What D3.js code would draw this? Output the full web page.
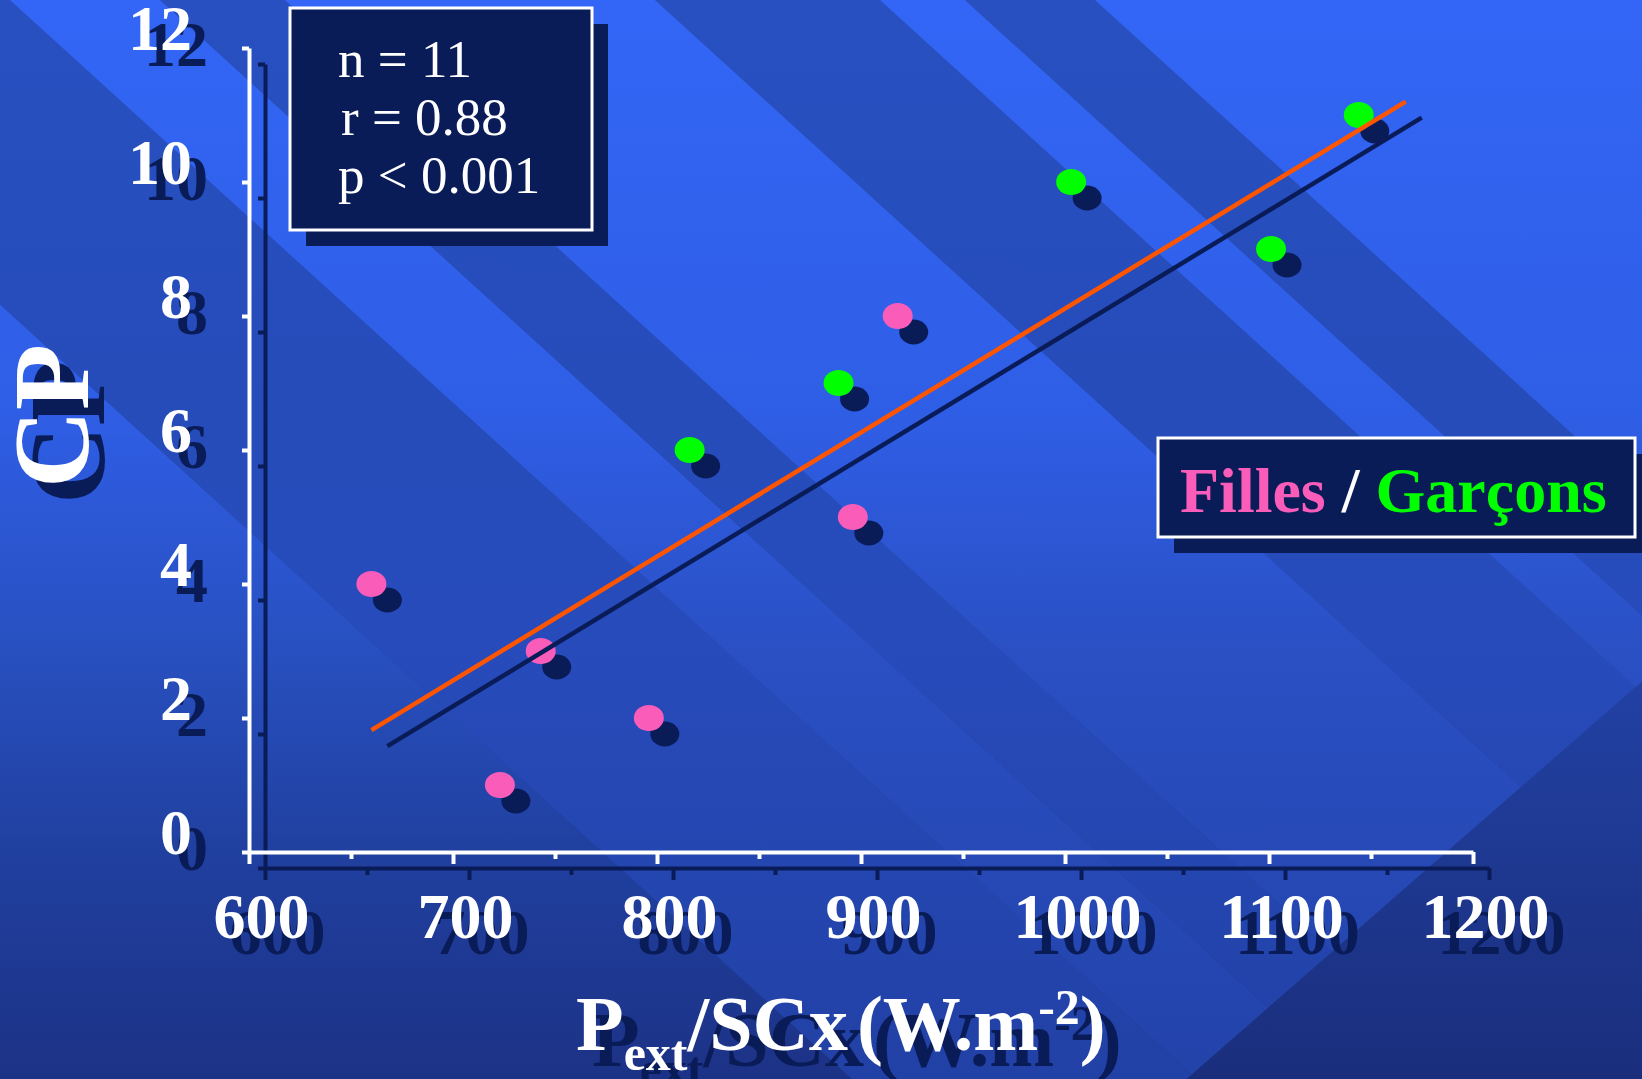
<!DOCTYPE html>
<html><head><meta charset="utf-8">
<script src="https://cdn.jsdelivr.net/npm/d3@7"></script>
<style>html,body{margin:0;padding:0;background:#1b2f80;overflow:hidden}</style>
</head><body><svg id="c" width="1642" height="1079"></svg>
<script>
// ---- data ----
const girlsX = [660, 743, 723, 796, 896, 918];
const girlsY = [4, 3, 1, 2, 5, 8];
const boysX = [816, 889, 1003, 1101, 1144];
const boysY = [6, 7, 10, 9, 11];
const fitX = [660, 1167];
const fitY = [1.82, 11.2];
const xTicks = [600, 700, 800, 900, 1000, 1100, 1200];
const xMinorTicks = [650, 750, 850, 950, 1050, 1150];
const yTicks = [0, 2, 4, 6, 8, 10, 12];
const statsLines = ["n = 11", "r = 0.88", "p < 0.001"];
const legendParts = ["Filles", " / ", "Garçons"];
const yTitle = "CP";

// ---- layout ----
const W = 1642, H = 1079;
const SH = 16;
const NAVY = "#0a1c58";
const PINK = "#fa5cba";
const GREEN = "#00ff00";
const ORANGE = "#ff5500";
const SERIF = "'Liberation Serif','Times New Roman',Times,serif";

const svg = d3.select("#c");
const x = d3.scaleLinear().domain([600, 1200]).range([249, 1473]);
const y = d3.scaleLinear().domain([0, 12]).range([852, 48]);

// ---- background (decorative diagonal bands) ----
const defs = svg.append("defs");
function grad(id, stops) {
  const g = defs.append("linearGradient").attr("id", id)
    .attr("gradientUnits", "userSpaceOnUse").attr("x1", 0).attr("y1", 0).attr("x2", 0).attr("y2", H);
  stops.forEach(s => g.append("stop").attr("offset", s[0]).attr("stop-color", s[1]));
}
grad("gPlain", [[0, "#2a52c4"], [0.55, "#2445ae"], [0.75, "#1f3b96"], [1, "#1a2e7c"]]);
grad("gBright", [[0, "#3366f6"], [0.38, "#2f5ee6"], [0.6, "#2a50c4"], [0.8, "#2649b6"], [1, "#2343aa"]]);
grad("gDark", [[0, "#2850c0"], [0.38, "#264cba"], [0.6, "#274bbb"], [0.8, "#2446b0"], [1, "#2241a6"]]);
grad("gLeft", [[0, "#3366f6"], [0.38, "#2f5ee6"], [0.6, "#2850c0"], [0.8, "#203f9e"], [1, "#1c3286"]]);

const edgeX0 = [-335, 10, 160, 285, 655, 880, 965, 1095]; // band borders where they meet the top edge
const K = 1.1;
const ex = (x0, yy) => x0 + K * yy;
// straight cut line that ends the bands in the lower right
const cut = xx => 1000 - 0.873 * (xx - 1277);

svg.append("rect").attr("width", W).attr("height", H).attr("fill", "url(#gPlain)");
defs.append("clipPath").attr("id", "cut").append("polygon")
  .attr("points", [[-4000, -4000], [6000, -4000], [6000, cut(6000)], [-4000, cut(-4000)]].map(p => p.join(",")).join(" "));

const bands = [];
const borders = [-4000].concat(edgeX0, [6000]);
for (let i = 0; i < borders.length - 1; i++) {
  const a = borders[i], b = borders[i + 1];
  bands.push({ a, b, fill: i === 0 ? "url(#gLeft)" : (i % 2 === 1 ? "url(#gDark)" : "url(#gBright)") });
}
svg.append("g").attr("clip-path", "url(#cut)").selectAll("polygon").data(bands).join("polygon")
  .attr("points", d => [[ex(d.a, 0), 0], [ex(d.b, 0), 0], [ex(d.b, H), H], [ex(d.a, H), H]]
    .map(p => p.join(",")).join(" "))
  .attr("fill", d => d.fill);

// ---- axes (shadow + white) ----
const fmt = d3.format("d");
function drawAxes(off, color) {
  const g = svg.append("g").attr("transform", `translate(${off},${off})`);
  const ya = g.append("g").attr("transform", `translate(${x(600)},0)`)
    .call(d3.axisLeft(y).tickValues(yTicks).tickFormat(fmt).tickSize(7).tickSizeOuter(0).tickPadding(50));
  const xa = g.append("g").attr("transform", `translate(0,${y(0)})`)
    .call(d3.axisBottom(x).tickValues(xTicks).tickFormat(fmt).tickSize(12).tickSizeOuter(0).tickPadding(0));
  const xm = g.append("g").attr("transform", `translate(0,${y(0)})`)
    .call(d3.axisBottom(x).tickValues(xMinorTicks).tickSize(7).tickSizeOuter(0).tickFormat(""));
  xm.select(".domain").remove();
  [ya, xa, xm].forEach(a => {
    a.attr("font-family", SERIF).attr("font-size", 64).attr("font-weight", "bold");
    a.selectAll("path,line").attr("stroke", color).attr("stroke-width", 4);
    a.selectAll("text").attr("fill", color);
  });
  ya.selectAll("text").attr("dy", 1);
  xa.selectAll("text").attr("y", 86).attr("dy", 0).attr("dx", 12);
  // x title
  const t = g.append("text").attr("x", 576).attr("y", 1050)
    .attr("font-family", SERIF).attr("font-weight", "bold").attr("font-size", 78).attr("fill", color);
  t.append("tspan").text("P");
  t.append("tspan").attr("font-size", 50).attr("dy", 20).text("ext");
  t.append("tspan").attr("dy", -20).text("/SCx");
  t.append("tspan").attr("dx", 9).text("(W.m");
  t.append("tspan").attr("font-size", 50).attr("dy", -26).text("-2");
  t.append("tspan").attr("dy", 26).text(")");
  // y title
  g.append("text").attr("transform", "translate(88,416) rotate(-90)")
    .attr("text-anchor", "middle").attr("font-family", SERIF).attr("font-weight", "bold")
    .attr("font-size", 108).attr("fill", color).text(yTitle);
}
drawAxes(SH, NAVY);
drawAxes(0, "#ffffff");

// ---- stats box ----
svg.append("rect").attr("x", 290 + SH).attr("y", 8 + SH).attr("width", 302).attr("height", 222).attr("fill", NAVY);
svg.append("rect").attr("x", 290).attr("y", 8).attr("width", 302).attr("height", 222)
  .attr("fill", NAVY).attr("stroke", "#ffffff").attr("stroke-width", 3);
svg.append("g").selectAll("text").data(statsLines).join("text")
  .attr("x", (d, i) => i === 1 ? 341 : 338).attr("y", (d, i) => 77 + i * 58)
  .attr("font-family", SERIF).attr("font-size", 53).attr("fill", "#ffffff").text(d => d);

// ---- legend box ----
svg.append("rect").attr("x", 1158 + SH).attr("y", 438 + SH).attr("width", 477).attr("height", 99).attr("fill", NAVY);
svg.append("rect").attr("x", 1158).attr("y", 438).attr("width", 477).attr("height", 99)
  .attr("fill", NAVY).attr("stroke", "#ffffff").attr("stroke-width", 3);
const lt = svg.append("text").attr("x", 1180).attr("y", 512)
  .attr("font-family", SERIF).attr("font-weight", "bold").attr("font-size", 64).style("white-space", "pre");
lt.selectAll("tspan").data(legendParts).join("tspan")
  .attr("fill", (d, i) => [PINK, "#ffffff", GREEN][i]).text(d => d);

// ---- points ----
const girls = girlsX.map((v, i) => ({ x: v, y: girlsY[i], c: PINK }));
const boys = boysX.map((v, i) => ({ x: v, y: boysY[i], c: GREEN }));
const pts = girls.concat(boys);
svg.append("g").selectAll("ellipse").data(pts).join("ellipse")
  .attr("cx", d => x(d.x) + SH).attr("cy", d => y(d.y) + SH).attr("rx", 14.5).attr("ry", 12.5).attr("fill", NAVY);
svg.append("g").selectAll("ellipse").data(pts).join("ellipse")
  .attr("cx", d => x(d.x)).attr("cy", d => y(d.y)).attr("rx", 15).attr("ry", 13).attr("fill", d => d.c);

// ---- regression line ----
const fit = fitX.map((v, i) => [v, fitY[i]]);
const line = d3.line().x(d => x(d[0])).y(d => y(d[1]));
svg.append("path").datum(fit).attr("d", line).attr("transform", `translate(${SH},${SH})`)
  .attr("stroke", NAVY).attr("stroke-width", 4.5).attr("fill", "none");
svg.append("path").datum(fit).attr("d", line)
  .attr("stroke", ORANGE).attr("stroke-width", 4.5).attr("fill", "none");
</script></body></html>
